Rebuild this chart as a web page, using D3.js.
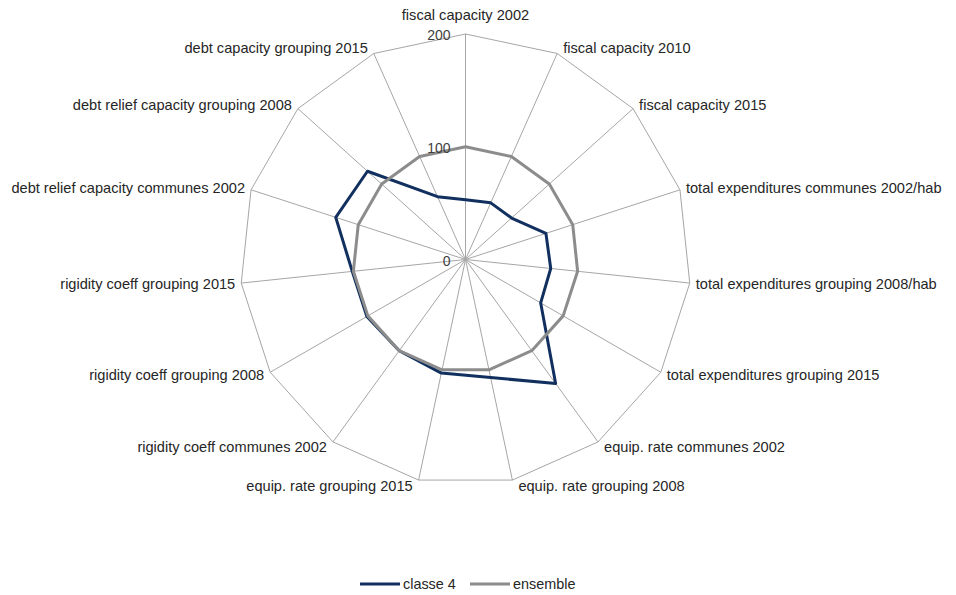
<!DOCTYPE html>
<html>
<head>
<meta charset="utf-8">
<script src="https://cdn.jsdelivr.net/npm/d3@7"></script>
<style>
  body { margin: 0; background: #fff; }
  text { font-family: "Liberation Sans", Arial, sans-serif; }
  .axis-label { font-size: 14.6px; fill: #262626; }
  .tick-label { font-size: 14px; fill: #404040; }
  .legend-label { font-size: 14.4px; fill: #262626; }
</style>
</head>
<body>
<div id="radar"></div>
<script>
const categories = [
  'fiscal capacity 2002',
  'fiscal capacity 2010',
  'fiscal capacity 2015',
  'total expenditures communes 2002/hab',
  'total expenditures grouping 2008/hab',
  'total expenditures grouping 2015',
  'equip. rate communes 2002',
  'equip. rate grouping 2008',
  'equip. rate grouping 2015',
  'rigidity coeff communes 2002',
  'rigidity coeff grouping 2008',
  'rigidity coeff grouping 2015',
  'debt relief capacity communes 2002',
  'debt relief capacity grouping 2008',
  'debt capacity grouping 2015'
];
const classe4 = [53, 55, 55, 75, 76, 77, 136, 107, 103, 100, 101, 101, 121, 117, 61];
const ensemble = [100, 100, 100, 100, 100, 100, 100, 100, 100, 100, 100, 100, 100, 100, 100];
const tickValues = [0, 100, 200];
const seriesNames = ['classe 4', 'ensemble'];
const seriesColors = ['#12305f', '#8c8c8c'];

const width = 956, height = 595;
const cx = 465.5, cy = 259.5;
const radius = 225.5;

const svg = d3.select('#radar')
  .append('svg')
  .attr('width', width)
  .attr('height', height);

const rScale = d3.scaleLinear().domain([0, 200]).range([0, radius]);
const angle = d3.scaleLinear().domain([0, categories.length]).range([0, 2 * Math.PI]);

const g = svg.append('g').attr('transform', 'translate(' + cx + ',' + cy + ')');

function pt(i, v) {
  const a = angle(i);
  return [Math.sin(a) * rScale(v), -Math.cos(a) * rScale(v)];
}

// spokes
g.selectAll('.spoke')
  .data(categories)
  .enter()
  .append('line')
  .attr('x1', 0).attr('y1', 0)
  .attr('x2', (d, i) => pt(i, 200)[0])
  .attr('y2', (d, i) => pt(i, 200)[1])
  .attr('stroke', '#a6a6a6')
  .attr('stroke-width', 1);

// outer ring
const ring = d3.lineRadial()
  .angle((d, i) => angle(i))
  .radius(d => rScale(d))
  .curve(d3.curveLinearClosed);

g.append('path')
  .attr('d', ring(categories.map(() => 200)))
  .attr('fill', 'none')
  .attr('stroke', '#a6a6a6')
  .attr('stroke-width', 1);

// series
[classe4, ensemble].forEach((vals, k) => {
  g.append('path')
    .attr('d', ring(vals))
    .attr('fill', 'none')
    .attr('stroke', seriesColors[k])
    .attr('stroke-width', 3)
    .attr('stroke-linejoin', 'round');
});

// tick labels
g.selectAll('.tick-label')
  .data(tickValues)
  .enter()
  .append('text')
  .attr('class', 'tick-label')
  .attr('x', -15)
  .attr('y', d => -rScale(d) + 1)
  .attr('text-anchor', 'end')
  .attr('dominant-baseline', 'central')
  .text(d => d);

// category labels
g.selectAll('.axis-label')
  .data(categories)
  .enter()
  .append('text')
  .attr('class', 'axis-label')
  .attr('text-anchor', (d, i) => {
    const s = Math.sin(angle(i));
    return s > 0.05 ? 'start' : (s < -0.05 ? 'end' : 'middle');
  })
  .attr('x', (d, i) => {
    const s = Math.sin(angle(i));
    const p = pt(i, 200);
    return p[0] + (s > 0.05 ? 6 : (s < -0.05 ? -6 : 0));
  })
  .attr('y', (d, i) => {
    const s = Math.sin(angle(i));
    const p = pt(i, 200);
    if (Math.abs(s) <= 0.05) return p[1] - 19;
    return p[1] - 6 * Math.cos(angle(i));
  })
  .attr('dominant-baseline', 'central')
  .text(d => d);

// legend
const legend = svg.append('g').attr('transform', 'translate(360,584)');
const legendX = [0, 110];
seriesNames.forEach((name, k) => {
  legend.append('line')
    .attr('x1', legendX[k]).attr('x2', legendX[k] + 40)
    .attr('y1', 0).attr('y2', 0)
    .attr('stroke', seriesColors[k])
    .attr('stroke-width', 3);
  legend.append('text')
    .attr('class', 'legend-label')
    .attr('x', legendX[k] + 43)
    .attr('y', 0)
    .attr('dominant-baseline', 'central')
    .text(name);
});
</script>
</body>
</html>
